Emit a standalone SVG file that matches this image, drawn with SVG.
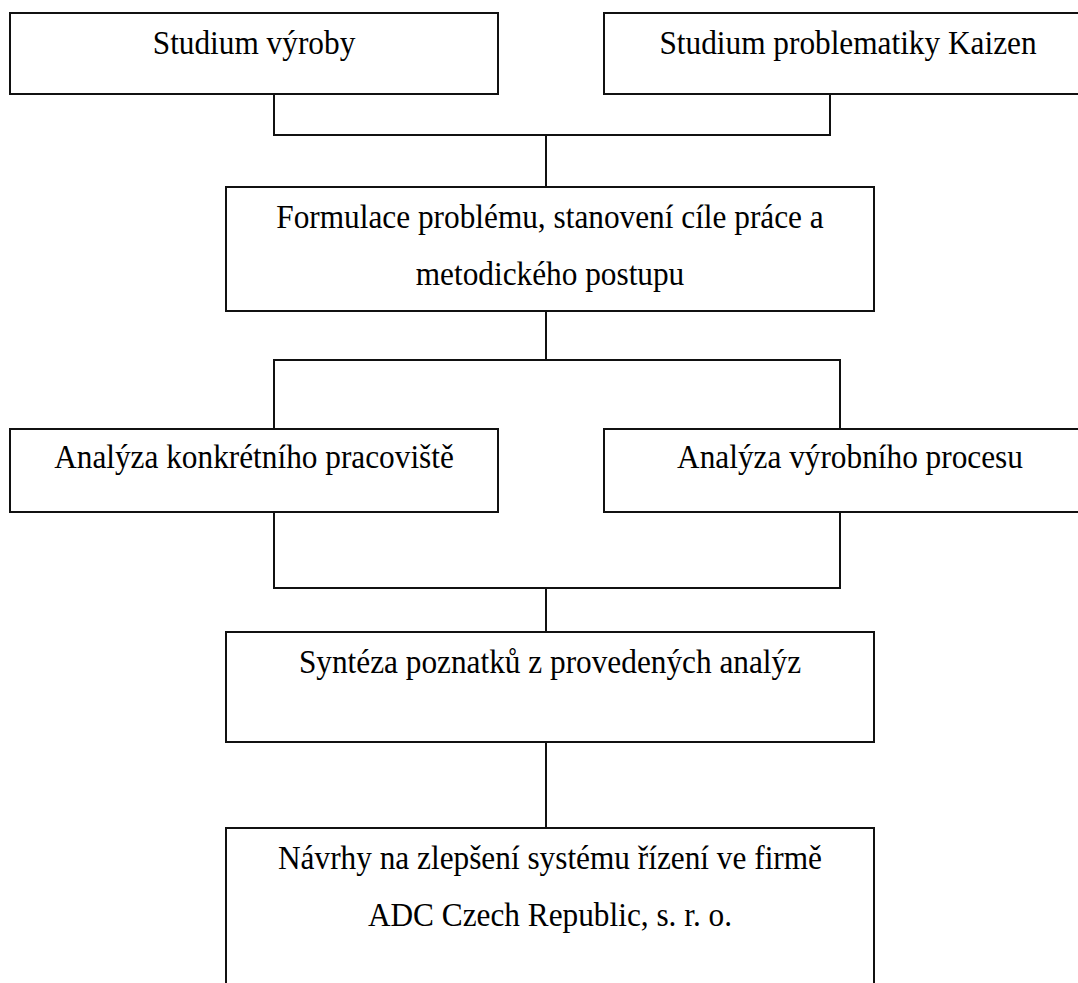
<svg xmlns="http://www.w3.org/2000/svg" width="1078" height="983" viewBox="0 0 1078 983">
<style>
  .box { fill: #ffffff; stroke: #111111; stroke-width: 2; }
  .lbl { font-family: "Liberation Serif", "Times New Roman", serif; font-size: 31.3px; fill: #000000; text-anchor: middle; }
  .conn { fill: none; stroke: #111111; stroke-width: 2; }
</style>
<rect x="0" y="0" width="1078" height="983" fill="#ffffff"/>
<g id="connectors">
  <polyline class="conn" points="274,94 274,135 830,135 830,94"/>
  <line class="conn" x1="546" y1="135" x2="546" y2="187"/>
  <line class="conn" x1="546" y1="311" x2="546" y2="360"/>
  <polyline class="conn" points="274,429 274,360 840,360 840,429"/>
  <polyline class="conn" points="274,512 274,588 840,588 840,512"/>
  <line class="conn" x1="546" y1="588" x2="546" y2="632"/>
  <line class="conn" x1="546" y1="742" x2="546" y2="828"/>
</g>
<g id="node-studium-vyroby">
  <rect class="box" x="10" y="13" width="488" height="81"/>
  <text class="lbl" transform="translate(254,54) scale(1,1.07)">Studium výroby</text>
</g>
<g id="node-studium-kaizen">
  <rect class="box" x="604" y="13" width="490" height="81"/>
  <text class="lbl" transform="translate(848,54) scale(1,1.07)">Studium problematiky Kaizen</text>
</g>
<g id="node-formulace">
  <rect class="box" x="226" y="187" width="648" height="124"/>
  <text class="lbl" transform="translate(550,228) scale(1,1.07)">Formulace problému, stanovení cíle práce a</text>
  <text class="lbl" transform="translate(550,285) scale(1,1.07)">metodického postupu</text>
</g>
<g id="node-analyza-pracoviste">
  <rect class="box" x="10" y="429" width="488" height="83"/>
  <text class="lbl" transform="translate(254,468) scale(1,1.07)">Analýza konkrétního pracoviště</text>
</g>
<g id="node-analyza-procesu">
  <rect class="box" x="604" y="429" width="490" height="83"/>
  <text class="lbl" transform="translate(850,468) scale(1,1.07)">Analýza výrobního procesu</text>
</g>
<g id="node-synteza">
  <rect class="box" x="226" y="632" width="648" height="110"/>
  <text class="lbl" transform="translate(550,673) scale(1,1.07)">Syntéza poznatků z provedených analýz</text>
</g>
<g id="node-navrhy">
  <rect class="box" x="226" y="828" width="648" height="170"/>
  <text class="lbl" transform="translate(550,869) scale(1,1.07)">Návrhy na zlepšení systému řízení ve firmě</text>
  <text class="lbl" transform="translate(550,926) scale(1,1.07)">ADC Czech Republic, s. r. o.</text>
</g>
</svg>
